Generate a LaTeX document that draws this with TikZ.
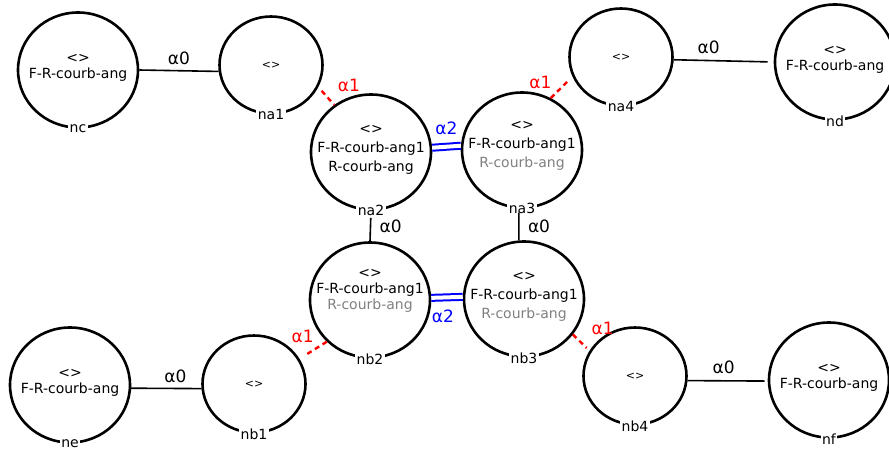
\documentclass[tikz,border=0pt]{standalone}
\usepackage{fontspec}
\setmainfont{DejaVu Sans}
\usetikzlibrary{shapes.geometric}

\newcommand{\faded}[1]{\textcolor{black!50}{#1}}

\tikzset{
  bigdart/.style={ellipse,draw,line width=2.6pt,minimum width=120pt,
    minimum height=115pt,inner sep=0pt},
  smalldart/.style={bigdart,minimum width=103pt,minimum height=97pt},
  inside/.style={anchor=center,align=center,inner sep=0pt,yshift=2pt,
    font=\fontsize{14}{16}\selectfont},
  inside3/.style={inside,yshift=0pt,font=\fontsize{14}{19}\selectfont},
  smalltxt/.style={anchor=center,inner sep=0pt,font=\fontsize{11}{12}\selectfont},
  dartid/.style={anchor=center,fill=white,inner sep=1.5pt,
    font=\fontsize{14}{16}\selectfont},
  a0/.style={line width=1.6pt},
  a1/.style={draw=red,line width=2.4pt,dash pattern=on 5pt off 4pt},
  a2/.style={draw=blue,line width=2pt,double=white,double distance=4pt},
  alab/.style={font=\fontsize{17}{17}\selectfont},
}

\begin{document}
\begin{tikzpicture}[x=1pt,y=-1pt,font=\fontsize{14}{18}\selectfont]
\useasboundingbox (0,0) rectangle (889,450);
% darts
\node[bigdart,label={[inside]center:{<>\\F-R-courb-ang}},
  label={[dartid]south:nc}] (nc) at (78,70) {};
\node[smalldart,label={[smalltxt]center:<>},
  label={[dartid]south:na1}] (na1) at (271,65) {};
\node[bigdart,label={[inside3]center:{<>\\F-R-courb-ang1\\R-courb-ang}},
  label={[dartid]south:na2}] (na2) at (371,152) {};
\node[bigdart,label={[inside3,yshift=2pt]center:{<>\\F-R-courb-ang1\\\faded{R-courb-ang}}},
  label={[dartid]south:na3}] (na3) at (522,150) {};
\node[smalldart,label={[smalltxt]center:<>},
  label={[dartid]south:na4}] (na4) at (621,57) {};
\node[bigdart,label={[inside]center:{<>\\F-R-courb-ang}},
  label={[dartid]south:nd}] (nd) at (835,62) {};
\node[bigdart,label={[inside3,yshift=7pt,font=\fontsize{14}{16}\selectfont]center:{<>\\F-R-courb-ang1\\\faded{R-courb-ang}}},
  label={[dartid]south:nb2}] (nb2) at (370,300) {};
\node[bigdart,label={[inside3]center:{<>\\F-R-courb-ang1\\\faded{R-courb-ang}}},
  label={[dartid]south:nb3}] (nb3) at (524,299) {};
\node[bigdart,label={[inside]center:{<>\\F-R-courb-ang}},
  label={[dartid]south:ne}] (ne) at (70,385) {};
\node[smalldart,label={[smalltxt]center:<>},
  label={[dartid]south:nb1}] (nb1) at (254,384) {};
\node[smalldart,label={[smalltxt]center:<>},
  label={[dartid]south:nb4}] (nb4) at (635,376) {};
\node[bigdart,label={[inside]center:{<>\\F-R-courb-ang}},
  label={[dartid]south:nf}] (nf) at (829,380) {};
% alpha 0
\draw[a0] (nc.0) -- node[alab,above=2pt] {α0} (na1.187);
\draw[a0,shorten >=6pt] (na4.-3) -- node[alab,above=3pt,pos=.35] {α0} (nd.180);
\draw[a0] (ne.-3) -- node[alab,above=2pt,pos=.63] {α0} (nb1.185);
\draw[a0,shorten >=3pt] (nb4.-5) -- node[alab,above=3pt,pos=.45] {α0} (nf.181);
\draw[a0,shorten <=7pt] (na2.south) -- node[alab,right=5pt] {α0} (nb2.north);
\draw[a0,shorten <=4pt] (na3.-93) -- node[alab,right=5pt,pos=.55] {α0} (nb3.95);
% alpha 1
\draw[a1,shorten <=5pt] (na1.-25) -- node[alab,red,above right,xshift=7pt] {α1} (na2.128);
\draw[a1,shorten >=5pt] (na3.61) -- node[alab,red,left=11pt,pos=.75] {α1} (na4.202);
\draw[a1,shorten >=9pt] (nb2.224) -- node[alab,red,above left,xshift=5pt,yshift=3pt] {α1} (nb1.29);
\draw[a1,shorten >=4pt] (nb3.-36) -- node[alab,red,above right,xshift=6pt,yshift=3pt] {α1} (nb4.151);
% alpha 2
\draw[a2] (na2.4) -- node[alab,blue,above=8pt] {α2} (na3.176);
\draw[a2] (nb2.2) -- node[alab,blue,below=8pt,xshift=-4pt] {α2} (nb3.178);
\end{tikzpicture}
\end{document}
